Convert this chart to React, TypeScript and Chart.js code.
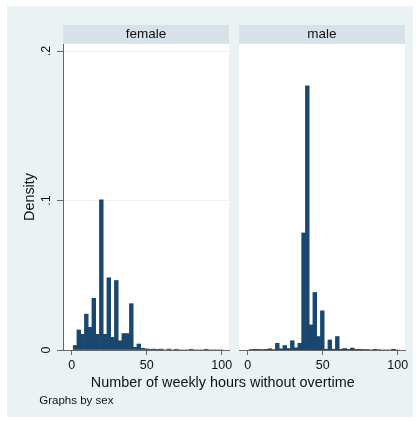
import React, { useEffect, useRef } from "react";
import { Chart, registerables } from "chart.js";

Chart.register(...registerables);

// ---- data ----
const binCenters = [
  2.25, 4.75, 7.25, 9.75, 12.25, 14.75, 17.25, 19.75, 22.25, 24.75,
  27.25, 29.75, 32.25, 34.75, 37.25, 39.75, 42.25, 44.75, 47.25, 49.75,
  52.25, 54.75, 57.25, 59.75, 62.25, 64.75, 67.25, 69.75, 72.25, 74.75,
  77.25, 79.75, 82.25, 84.75, 87.25, 89.75, 92.25, 94.75, 97.25, 99.75,
];
const femaleDensity = [
  0.003, 0.0134, 0.0105, 0.024, 0.0152, 0.0346, 0.0105, 0.1005, 0.0105, 0.0483,
  0.0085, 0.0465, 0.0062, 0.011, 0.011, 0.031, 0.0018, 0.004, 0.0012, 0.0008,
  0.0005, 0.0006, 0.0002, 0.0006, 0, 0.0006, 0, 0.0005, 0, 0,
  0, 0.0005, 0, 0, 0, 0.0005, 0, 0, 0, 0,
];
const maleDensity = [
  0.0003, 0.0004, 0.0004, 0.0003, 0.0004, 0.0008, 0.0003, 0.0045, 0.0008, 0.003,
  0.001, 0.0062, 0.0015, 0.0045, 0.0783, 0.1767, 0.0168, 0.0385, 0.009, 0.0262,
  0.0005, 0.0067, 0.0005, 0.009, 0.0005, 0.001, 0.0004, 0.0013, 0.0004, 0.0004,
  0.0003, 0.0003, 0, 0.0004, 0.0002, 0, 0, 0, 0.0005, 0,
];
const panelLabels = ["female", "male"];
const xTickValues = [0, 50, 100];
const xTickLabels = ["0", "50", "100"];
const yTickValues = [0, 0.1, 0.2];
const yTickLabels = ["0", ".1", ".2"];
const xTitle = "Number of weekly hours without overtime";
const yTitle = "Density";
const noteText = "Graphs by sex";

// ---- style ----
const W = 418;
const H = 421;
const FONT = "'Liberation Sans', Arial, Helvetica, sans-serif";
const X_MIN = -5.8;
const X_MAX = 104.9;
const Y_MAX = 0.2047;
const BAR = "#1a476f";
const BG = "#eaf2f3";
const STRIP = "#d7e2e8";
const AXIS = "#666666";
const TEXT = "#111111";

function makePlugin(label: string, drawFrame: boolean, drawNotes: boolean) {
  return {
    id: "panelDeco",
    beforeDraw(chart: any) {
      const ctx = chart.ctx;
      const a = chart.chartArea;
      ctx.save();
      if (drawFrame) {
        ctx.fillStyle = "#ffffff";
        ctx.fillRect(0, 0, W, H);
        ctx.fillStyle = BG;
        ctx.fillRect(7, 6, 406, 411);
      }
      ctx.fillStyle = "#ffffff";
      ctx.fillRect(a.left, a.top, a.right - a.left, a.bottom - a.top);
      ctx.fillStyle = STRIP;
      ctx.fillRect(a.left, a.top - 19, a.right - a.left, 19);
      ctx.fillStyle = TEXT;
      ctx.font = `13.5px ${FONT}`;
      ctx.textAlign = "center";
      ctx.textBaseline = "middle";
      ctx.fillText(label, (a.left + a.right) / 2, a.top - 9.5);
      ctx.restore();
    },
    afterDraw(chart: any) {
      if (!drawNotes) return;
      const ctx = chart.ctx;
      ctx.save();
      ctx.fillStyle = TEXT;
      ctx.textBaseline = "middle";
      ctx.textAlign = "center";
      ctx.font = `14.4px ${FONT}`;
      ctx.fillText(xTitle, 222.8, 383.5);
      ctx.textAlign = "left";
      ctx.font = `11.5px ${FONT}`;
      ctx.fillText(noteText, 39.3, 401);
      ctx.restore();
    },
  };
}

function buildConfig(values: number[], label: string, isLeft: boolean): any {
  return {
    type: "bar",
    data: {
      datasets: [
        {
          data: binCenters.map((x, i) => ({ x, y: values[i] })),
          backgroundColor: BAR,
          borderWidth: 0,
          barPercentage: 1,
          categoryPercentage: 1,
        },
      ],
    },
    options: {
      responsive: false,
      animation: false,
      devicePixelRatio: 1,
      events: [],
      layout: {
        padding: isLeft
          ? { left: 0, right: W - 229, top: 44, bottom: 41 }
          : { left: 239, right: W - 405, top: 44, bottom: 41 },
      },
      plugins: { legend: { display: false }, tooltip: { enabled: false } },
      scales: {
        x: {
          type: "linear",
          min: X_MIN,
          max: X_MAX,
          offset: false,
          afterBuildTicks: (s: any) => {
            s.ticks = xTickValues.map((v) => ({ value: v }));
          },
          afterFit: (s: any) => {
            s.height = 30;
          },
          ticks: {
            callback: (v: number) => xTickLabels[xTickValues.indexOf(v)],
            minRotation: 0,
            maxRotation: 0,
            padding: 3,
            color: TEXT,
            font: { family: FONT, size: 12.5 },
          },
          grid: {
            offset: false,
            drawOnChartArea: false,
            drawTicks: true,
            tickLength: 5,
            tickColor: AXIS,
          },
          border: { display: true, color: AXIS, width: 1 },
        },
        y: {
          type: "linear",
          display: isLeft,
          min: 0,
          max: Y_MAX,
          afterBuildTicks: (s: any) => {
            s.ticks = yTickValues.map((v) => ({ value: v }));
          },
          afterFit: (s: any) => {
            s.width = isLeft ? 63 : 0;
          },
          ticks: {
            callback: (v: number) => yTickLabels[yTickValues.indexOf(v)],
            minRotation: 90,
            maxRotation: 90,
            crossAlign: "center",
            padding: 5,
            color: TEXT,
            font: { family: FONT, size: 12.5 },
          },
          grid: {
            color: BG,
            lineWidth: 1,
            drawTicks: true,
            tickLength: 6,
            tickColor: AXIS,
          },
          border: { display: true, color: AXIS, width: 1 },
          title: {
            display: true,
            text: yTitle,
            color: TEXT,
            font: { family: FONT, size: 14.4 },
            padding: { top: 21, bottom: 0 },
          },
        },
      },
    },
    plugins: [makePlugin(label, isLeft, !isLeft)],
  };
}

export default function App() {
  const femaleRef = useRef<HTMLCanvasElement | null>(null);
  const maleRef = useRef<HTMLCanvasElement | null>(null);

  useEffect(() => {
    const c1 = new Chart(femaleRef.current as HTMLCanvasElement, buildConfig(femaleDensity, panelLabels[0], true));
    const c2 = new Chart(maleRef.current as HTMLCanvasElement, buildConfig(maleDensity, panelLabels[1], false));
    return () => {
      c1.destroy();
      c2.destroy();
    };
  }, []);

  const canvasStyle: React.CSSProperties = { position: "absolute", left: 0, top: 0, width: W, height: H };
  return (
    <div style={{ position: "fixed", left: 0, top: 0, width: W, height: H, background: "#ffffff" }}>
      <canvas ref={femaleRef} width={W} height={H} style={canvasStyle} />
      <canvas ref={maleRef} width={W} height={H} style={canvasStyle} />
    </div>
  );
}
